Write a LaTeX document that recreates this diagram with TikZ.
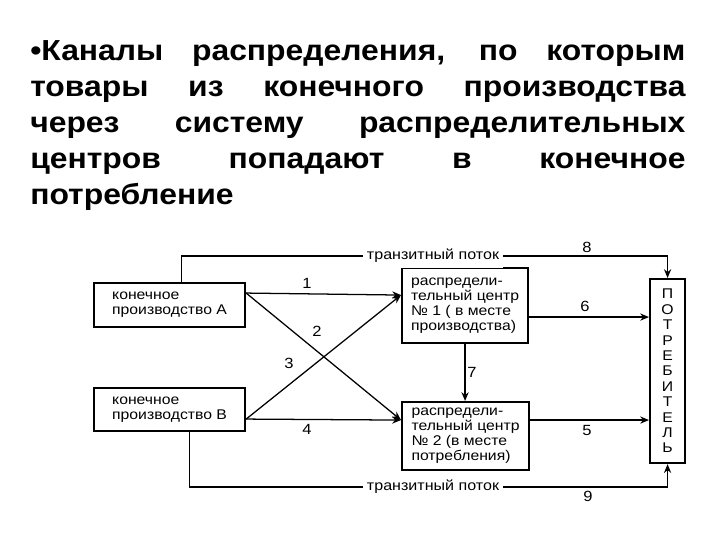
\documentclass[tikz,border=0pt]{standalone}
\usepackage{fontspec}
\setmainfont{Liberation Sans}
\newfontfamily\schemefont[FakeStretch=1.12]{Liberation Sans}
\newfontfamily\headfont[FakeStretch=1.1]{Liberation Sans}
\usetikzlibrary{arrows.meta, calc}

\begin{document}
\begin{tikzpicture}[x=0.025cm, y=-0.025cm, >={Stealth[length=2.2mm, width=1.8mm]},
  unit/.style={draw, line width=1.5pt, anchor=north west, align=left, inner sep=0pt,
    font=\schemefont\fontsize{10pt}{10.7pt}\selectfont},
  flow/.style={->, line width=0.9pt},
  num/.style={font=\schemefont\fontsize{10.5pt}{12pt}\selectfont},
  transit/.style={fill=white, inner xsep=3pt, font=\schemefont\fontsize{10.2pt}{11pt}\selectfont}]
  \useasboundingbox (0,0) rectangle (720,540);
  % Title
  \node[anchor=north west, inner sep=0pt, text width=16.375cm, align=justify,
    font=\headfont\bfseries\fontsize{20.6pt}{25.6pt}\selectfont] (title) at (30,40)
    {\noindent •Каналы распределения, по которым\linebreak товары из конечного производства\linebreak
     через систему распределительных\linebreak центров попадают в конечное\linebreak потребление};
  % Producers and centres
  \node[unit, minimum width=3.775cm, minimum height=1.1cm] (A) at (93,282) {конечное\\производство А};
  \node[unit, minimum width=3.775cm, minimum height=1.075cm] (B) at (93,387) {конечное\\производство В};
  \node[unit, minimum width=3.15cm, minimum height=1.875cm] (C1) at (401,267)
    {распредели-\\тельный центр\\№ 1 ( в месте\\производства)};
  \node[unit, minimum width=3.175cm, minimum height=1.7cm] (C2) at (401,401)
    {распредели-\\тельный центр\\№ 2 (в месте\\потребления)};
  % Consumer
  \node[unit, align=center, minimum width=0.875cm, minimum height=4.6cm,
    font=\schemefont\fontsize{10pt}{10.95pt}\selectfont] (P) at (649,278)
    {П\\О\\Т\\Р\\Е\\Б\\И\\Т\\Е\\Л\\Ь};
  \coordinate (a1) at ([yshift=0.3cm]A.east);
  \coordinate (b1) at ([yshift=-0.2375cm]B.east);
  \coordinate (c1in) at ([yshift=0.2625cm]C1.west);
  \coordinate (c1out) at ([yshift=-0.2875cm]C1.east);
  \coordinate (c2in) at ([yshift=0.4cm]C2.west);
  \coordinate (c2out) at ([yshift=0.4cm]C2.east);
  \coordinate (t8) at (433,256);
  \coordinate (t9) at (433,487);
  % Channels
  \draw[flow] (a1) -- (c1in);
  \draw[flow] (a1) -- (c2in);
  \draw[flow] (b1) -- (c1in);
  \draw[flow] (b1) -- (c2in);
  \draw[flow] (c1out) -- (c1out -| P.west);
  \draw[flow] (c2out) -- (c2out -| P.west);
  \draw[flow] (C1.south) -- (C1.south |- C2.north);
  % Transit flows
  \draw[flow] ([xshift=0.29cm]A.north) |- (t8) -| (P.north);
  \draw[flow] ([xshift=0.49cm]B.south) |- (t9) -| (P.south);
  \node[transit] (tr8) at (t8) {транзитный поток};
  \node[transit] (tr9) at (t9) {транзитный поток};
  \foreach \n/\x/\y in {1/307/283, 2/317/331, 3/289/363, 4/307/429, 5/587/430,
                        6/585/306, 7/472/372, 8/587/247, 9/588/496}
    \node[num] (n\n) at (\x,\y) {\n};
\end{tikzpicture}
\end{document}
